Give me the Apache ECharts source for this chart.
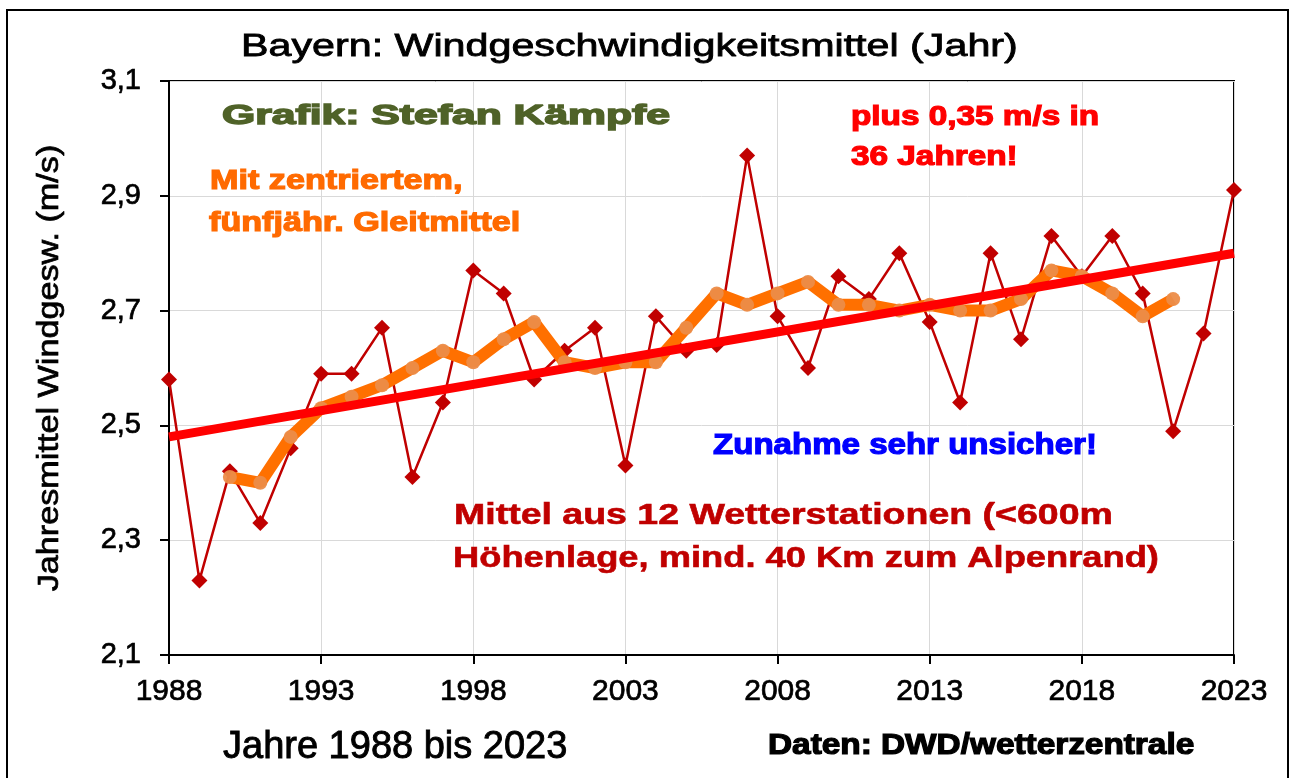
<!DOCTYPE html>
<html>
<head>
<meta charset="utf-8">
<script src="https://cdn.jsdelivr.net/npm/echarts@6/dist/echarts.min.js"></script>
<style>
html, body { margin: 0; padding: 0; background: #fff; }
#chart { width: 1290px; height: 778px; }
</style>
</head>
<body>
<div id="chart"></div>
<script>
// ---- data ----
const years = [1988, 1989, 1990, 1991, 1992, 1993, 1994, 1995, 1996, 1997,
               1998, 1999, 2000, 2001, 2002, 2003, 2004, 2005, 2006, 2007,
               2008, 2009, 2010, 2011, 2012, 2013, 2014, 2015, 2016, 2017,
               2018, 2019, 2020, 2021, 2022, 2023];
const annualMean = [2.58, 2.23, 2.42, 2.33, 2.46, 2.59, 2.59, 2.67, 2.41, 2.54,
                    2.77, 2.73, 2.58, 2.63, 2.67, 2.43, 2.69, 2.63, 2.64, 2.97,
                    2.69, 2.60, 2.76, 2.72, 2.80, 2.68, 2.54, 2.80, 2.65, 2.83,
                    2.76, 2.83, 2.73, 2.49, 2.66, 2.91];
const maYears = [1990, 1991, 1992, 1993, 1994, 1995, 1996, 1997, 1998, 1999,
                 2000, 2001, 2002, 2003, 2004, 2005, 2006, 2007, 2008, 2009,
                 2010, 2011, 2012, 2013, 2014, 2015, 2016, 2017, 2018, 2019,
                 2020, 2021];
const movingAvg = [2.41, 2.40, 2.48, 2.53, 2.55, 2.57, 2.60, 2.63, 2.61, 2.65,
                   2.68, 2.61, 2.60, 2.61, 2.61, 2.67, 2.73, 2.71, 2.73, 2.75,
                   2.71, 2.71, 2.70, 2.71, 2.70, 2.70, 2.72, 2.77, 2.76, 2.73,
                   2.69, 2.72];
const trendYears = [1988, 2023];
const trendValues = [2.48, 2.80];

const titleText = 'Bayern: Windgeschwindigkeitsmittel (Jahr)';
const yAxisTitle = 'Jahresmittel Windgesw. (m/s)';
const xAxisTitle = 'Jahre 1988 bis 2023';
const sourceText = 'Daten: DWD/wetterzentrale';
const noteAuthor = 'Grafik: Stefan Kämpfe';
const noteMa = ['Mit zentriertem,', 'fünfjähr. Gleitmittel'];
const noteTrend = ['plus 0,35 m/s in', '36 Jahren!'];
const noteUncertain = 'Zunahme sehr unsicher!';
const noteStations = ['Mittel aus 12 Wetterstationen (<600m', 'Höhenlage, mind. 40 Km zum Alpenrand)'];

// ---- helpers ----
const FONT = '"Liberation Sans", Arial, sans-serif';
function pairs(xs, ys) { return xs.map((x, i) => [x, ys[i]]); }
function label(text, x, y, size, weight, color, scaleX, strokeW, extra) {
  const style = {
    text: text, fill: color,
    font: weight + ' ' + size + 'px ' + FONT,
    fontSize: size, fontWeight: weight, fontFamily: FONT,
    textAlign: 'left', align: 'left',
    textVerticalAlign: 'middle', verticalAlign: 'middle'
  };
  if (strokeW) { style.stroke = color; style.lineWidth = strokeW; }
  return Object.assign({
    type: 'text', x: x, y: y, scaleX: scaleX || 1, scaleY: 1, z: 100,
    style: style
  }, extra || {});
}

const chart = echarts.init(document.getElementById('chart'), null, { renderer: 'canvas' });

const option = {
  animation: false,
  backgroundColor: '#ffffff',
  grid: {
    left: 169, right: 56, top: 81, bottom: 123,
    show: true, borderColor: '#000', borderWidth: 2, backgroundColor: 'transparent'
  },
  xAxis: {
    type: 'value', min: 1988, max: 2023, interval: 5,
    axisLine: { show: true, lineStyle: { color: '#000', width: 2 } },
    axisTick: { show: true, length: 9, lineStyle: { color: '#000', width: 2 } },
    axisLabel: {
      color: '#000', fontSize: 30, fontFamily: FONT, margin: 22,
      textBorderColor: '#000', textBorderWidth: 0.7,
      formatter: v => String(v)
    },
    splitLine: { show: true, lineStyle: { color: '#d9d9d9', width: 1 } }
  },
  yAxis: {
    type: 'value', min: 2.1, max: 3.1, interval: 0.2,
    axisLine: { show: true, lineStyle: { color: '#000', width: 2 } },
    axisTick: { show: true, length: 9, lineStyle: { color: '#000', width: 2 } },
    axisLabel: {
      color: '#000', fontSize: 29, fontFamily: FONT, margin: 28,
      textBorderColor: '#000', textBorderWidth: 0.7,
      formatter: v => v.toFixed(1).replace('.', ',')
    },
    splitLine: { show: true, lineStyle: { color: '#d9d9d9', width: 1 } }
  },
  series: [
    {
      name: 'Jahresmittel', type: 'line', z: 2,
      data: pairs(years, annualMean),
      symbol: 'diamond', symbolSize: 16,
      lineStyle: { color: '#c00000', width: 2.5 },
      itemStyle: { color: '#c00000' }
    },
    {
      name: 'Gleitmittel', type: 'line', z: 3,
      data: pairs(maYears, movingAvg),
      symbol: 'circle', symbolSize: 14,
      lineStyle: { color: '#ff7000', width: 12 },
      itemStyle: { color: 'rgba(236,140,72,0.95)', borderWidth: 0 }
    },
    {
      name: 'Trend', type: 'line', z: 4,
      data: pairs(trendYears, trendValues),
      symbol: 'none',
      lineStyle: { color: '#ff0000', width: 9 }
    }
  ],
  graphic: {
    elements: [
      { type: 'rect', z: 0, silent: true,
        shape: { x: 7, y: 10, width: 1281, height: 790 },
        style: { fill: 'none', stroke: '#000', lineWidth: 2 } },
      label(titleText, 241, 47, 31, 'normal', '#000', 1.33, 0.8),
      label(yAxisTitle, 50, 368, 30, 'normal', '#000', 1.14, 0.7,
        { rotation: Math.PI / 2 }),
      label(xAxisTitle, 223, 748, 38, 'normal', '#000', 1.0, 0.9),
      label(sourceText, 768, 746, 29, 'bold', '#000', 1.15, 1.2),
      label(noteAuthor, 222, 117, 27, 'bold', '#4f6228', 1.58, 1.4),
      label(noteMa[0], 210, 181, 28, 'bold', '#ff6a00', 1.22, 1.2),
      label(noteMa[1], 209, 223, 28, 'bold', '#ff6a00', 1.22, 1.2),
      label(noteTrend[0], 851, 117, 28, 'bold', '#ff0000', 1.19, 1.2),
      label(noteTrend[1], 851, 157, 28, 'bold', '#ff0000', 1.19, 1.2),
      label(noteUncertain, 713, 446, 29, 'bold', '#0000ff', 1.14, 1.2),
      label(noteStations[0], 454, 516, 30, 'bold', '#c00000', 1.25, 0.6),
      label(noteStations[1], 453, 559, 30, 'bold', '#c00000', 1.21, 0.6)
    ]
  }
};
// the rotated y title must be centred on its anchor
option.graphic.elements[2].style.textAlign = 'center';
option.graphic.elements[2].style.align = 'center';

chart.setOption(option);
</script>
</body>
</html>
